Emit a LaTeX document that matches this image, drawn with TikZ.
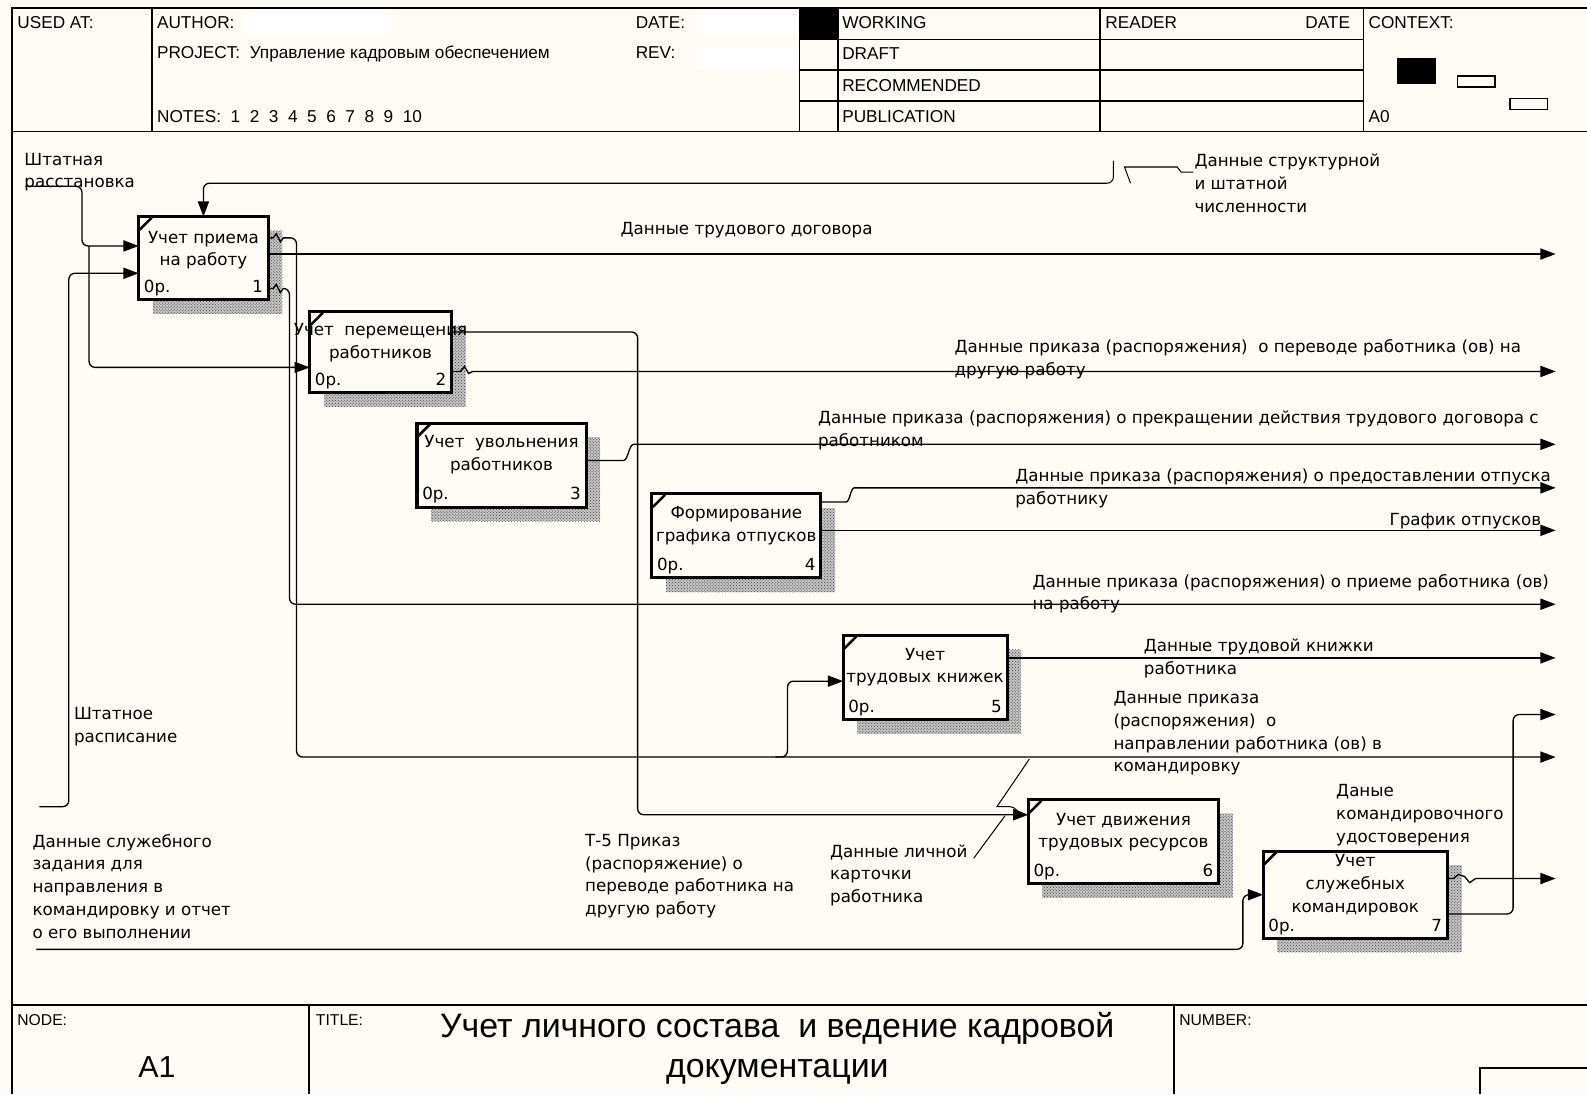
\documentclass[tikz,border=0pt]{standalone}
\usepackage{fontspec}
\setmainfont{DejaVu Sans}
\newfontfamily\hdrfont{Liberation Sans}
\usetikzlibrary{arrows.meta,patterns}
\definecolor{paper}{RGB}{254,252,245}
\newcommand\lblfont{\fontsize{16.5}{22.5}\selectfont}
\newcommand\hdrsize{\hdrfont\fontsize{17}{20}\selectfont}
% activity box: name, x, y, width, height (drawing units, y grows downward)
\newcommand\idefbox[5]{%
  \fill[boxshade] (#2+14,#3+14) rectangle (#2+#4+14,#3+#5+14);
  \node[act, minimum width=#4pt, minimum height=#5pt] (#1) at (#2,#3) {};
  \draw[line width=2.5pt] (#2+1,#3+13) -- (#2+13,#3+1);
}
% activity caption: name, caption, offset from top, number
\newcommand\idefcaption[4]{%
  \node[boxtxt, anchor=north, align=center] (#1-cap) at ([yshift=-#3pt]#1.north) {#2};
  \node[boxtxt, anchor=base west] (#1-cost) at ([xshift=5pt,yshift=7pt]#1.south west) {0р.};
  \node[boxtxt, anchor=base east] (#1-num) at ([xshift=-5pt,yshift=7pt]#1.south east) {#4};
}
\begin{document}
\begin{tikzpicture}[x=1pt,y=-1pt,
  frame/.style={line width=1.6pt},
  flow/.style={line width=1.3pt, rounded corners=6pt},
  arrowend/.style={-{Triangle[length=15pt,width=11pt]}},
  thinline/.style={line width=1pt},
  act/.style={rectangle, draw, line width=3pt, fill=paper, inner sep=0pt, outer sep=0pt, anchor=north west},
  boxshade/.style={preaction={fill=gray!45}, pattern=crosshatch dots, pattern color=black!80},
  boxtxt/.style={font=\lblfont, inner sep=0pt},
  lbl/.style={font=\lblfont, align=left, inner sep=0pt, anchor=north west},
  hdr/.style={font=\hdrsize, inner sep=0pt, anchor=base west},
  small/.style={font=\hdrfont\fontsize{15.5}{18}\selectfont, inner sep=0pt, anchor=base west}]

\useasboundingbox (0,0) rectangle (1568,1081);
\fill[paper] (0,0) rectangle (1568,1081);

% ---------- header ----------
\draw[frame] (1568,8) -- (12,8) -- (12,1081);
\draw[frame] (12,130) -- (1568,130);
\foreach \xx in {150,790,828,1087,1347} \draw[frame] (\xx,8) -- (\xx,130);
\foreach \yy in {39,69,100} \draw[frame] (790,\yy) -- (1347,\yy);
\fill (790,8) rectangle (828,39);
\fill[white] (242,13) rectangle (385,35);
\fill[white] (690,12) rectangle (788,35);
\fill[white] (690,46) rectangle (788,68);
\fill (1380,57) rectangle (1419,83);
\draw[line width=1.3pt] (1440,75) rectangle (1477,86);
\draw[line width=1.3pt] (1492,97) rectangle (1529,108);

\node[hdr] (hUsed) at (17,28) {USED AT:};
\node[hdr] (hAuthor) at (155,28) {AUTHOR:};
\node[hdr] (hProject) at (155,58) {PROJECT:\ \ Управление кадровым обеспечением};
\node[hdr] (hNotes) at (155,121) {NOTES:\ \ 1\ \ 2\ \ 3\ \ 4\ \ 5\ \ 6\ \ 7\ \ 8\ \ 9\ \ 10};
\node[hdr] (hDate) at (628,28) {DATE:};
\node[hdr] (hRev) at (628,58) {REV:};
\node[hdr] (hWork) at (832,28) {WORKING};
\node[hdr] (hDraft) at (832,59) {DRAFT};
\node[hdr] (hRec) at (832,90) {RECOMMENDED};
\node[hdr] (hPub) at (832,121) {PUBLICATION};
\node[hdr] (hReader) at (1092,28) {READER};
\node[hdr, anchor=base east] (hRDate) at (1334,28) {DATE};
\node[hdr] (hCtx) at (1352,28) {CONTEXT:};
\node[hdr] (hA0) at (1352,121) {A0};

% ---------- bottom band ----------
\draw[frame] (12,993) -- (1568,993);
\draw[frame] (305,993) -- (305,1081);
\draw[frame] (1160,993) -- (1160,1081);
\draw[frame] (1462,1081) -- (1462,1055) -- (1568,1055);
\node[small] (fNode) at (17,1013) {NODE:};
\node[small] (fTitle) at (312,1013) {TITLE:};
\node[small] (fNumber) at (1165,1013) {NUMBER:};
\node[font=\hdrfont\fontsize{30}{36}\selectfont, inner sep=0pt] (fA1) at (155,1054) {A1};
\node[font=\hdrfont\fontsize{33.5}{39}\selectfont, align=center, inner sep=0pt] (fTitleText) at (768,1036)
  {Учет личного состава~ и ведение кадровой\\документации};

% ---------- activities ----------
\idefbox{b1}{137}{214}{128}{82}
\idefbox{b2}{306}{308}{140}{80}
\idefbox{b3}{412}{418}{167}{83}
\idefbox{b4}{644}{488}{167}{83}
\idefbox{b5}{833}{628}{162}{83}
\idefbox{b6}{1016}{790}{188}{83}
\idefbox{b7}{1248}{841}{182}{86}

% ---------- boundary ends ----------
\coordinate (r251) at (1537,251);
\coordinate (r367) at (1537,367);
\coordinate (r439) at (1537,439);
\coordinate (r482) at (1537,482);
\coordinate (r524) at (1537,524);
\coordinate (r597) at (1537,597);
\coordinate (r650) at (1537,650);
\coordinate (r706) at (1537,706);
\coordinate (r748) at (1537,748);
\coordinate (r868) at (1537,868);
\coordinate (inCtl) at (1094,181);
\coordinate (srcA) at (25,184);
\coordinate (srcB) at (39,797);
\coordinate (srcC) at (36,938);

% ---------- connectors ----------
% control from the boundary with tunnel mark
\draw[flow, arrowend] (inCtl) -| (b1.north);
\draw[thinline] (1100,159) -- (1100,175) to[out=-90,in=0] (1094,181);
\draw[thinline] (1117,181) -- (1111,165) -- (1163,165) -- (1167,170) -- (1179,170);

% inputs of activity 1 and 2
\draw[flow, arrowend] (srcA) -- (81,184) -- (81,243) -- (b1.west |- 0,243);
\draw[flow, arrowend] (88,243) -- (88,363) -- (b2.west |- 0,363);
\draw[flow, arrowend] (srcB) -- (68,797) -- (68,270) -- (b1.west |- 0,270);

% outputs of activity 1
\draw[flow, arrowend] (b1.east |- 0,235) [sharp corners] -- (270,235) -- (273,231) -- (277,239) -- (280,235)
  [rounded corners=6pt] -- (293,235) -- (293,748) -- (r748);
\draw[flow, arrowend] (b1.east |- 0,251) -- (r251);
\draw[flow, arrowend] (b1.east |- 0,285) [sharp corners] -- (270,285) -- (273,281) -- (277,289) -- (280,285)
  [rounded corners=6pt] -- (286,285) -- (286,597) -- (r597);
\draw[flow, arrowend] (766,748) -- (778,748) -- (778,673) -- (b5.west |- 0,673);

% outputs of activity 2
\draw[flow, arrowend] (b2.east |- 0,328) -- (630,328) -- (630,805) -- (b6.west |- 0,805);
\draw[flow, arrowend] (b2.east |- 0,367) [sharp corners] -- (455,367) -- (459,362) -- (463,369) -- (467,367)
  [rounded corners=6pt] -- (r367);

% outputs of activity 3 and 4
\draw[flow, arrowend] (b3.east |- 0,455) -- (610,455) to[out=0,in=180] (632,439) -- (r439);
\draw[flow, arrowend] (b4.east |- 0,496) -- (830,496) to[out=0,in=180] (850,482) -- (r482);
\draw[flow, arrowend] (b4.east |- 0,524) -- (r524);

% output of activity 5
\draw[flow, arrowend] (b5.east |- 0,650) -- (r650);

% input and outputs of activity 7
\draw[flow, arrowend] (srcC) -- (1228,938) -- (1228,884) -- (b7.west |- 0,884);
\draw[flow, arrowend] (b7.east |- 0,868) [sharp corners] -- (1436,868) -- (1441,864) -- (1447,866) -- (1452,872) -- (1458,868)
  [rounded corners=6pt] -- (r868);
\draw[flow, arrowend] (b7.east |- 0,903) -- (1495,903) -- (1495,706) -- (r706);

% squiggles near activity 6
\draw[thinline] (1017,750) -- (985,797) -- (998,797) to[out=0,in=180] (1010,803);
\draw[thinline] (962,848) -- (993,806);

% ---------- arrow labels ----------
\node[lbl] (lShtR) at (24,151) {Штатная\\расстановка};
\node[lbl] (lStruct) at (1180,152) {Данные структурной\\и штатной\\численности};
\node[lbl] (lTD) at (613,219) {Данные трудового договора};
\node[lbl] (lPerevod) at (943,335) {Данные приказа (распоряжения)~ о переводе работника (ов) на\\другую работу};
\node[lbl] (lUvol) at (808,406) {Данные приказа (распоряжения) о прекращении действия трудового договора с\\работником};
\node[lbl] (lOtp) at (1003,463) {Данные приказа (распоряжения) о предоставлении отпуска\\работнику};
\node[lbl, anchor=north east] (lGraf) at (1523,507) {График отпусков};
\node[lbl] (lPriem) at (1020,567) {Данные приказа (распоряжения) о приеме работника (ов)\\на работу};
\node[lbl] (lTK) at (1130,631) {Данные трудовой книжки\\работника};
\node[lbl] (lKom) at (1100,683) {Данные приказа\\(распоряжения)~ о\\направлении работника (ов) в\\командировку};
\node[lbl] (lShtRasp) at (73,699) {Штатное\\расписание};
\node[lbl] (lUdost) at (1320,775) {Даные\\командировочного\\удостоверения};
\node[lbl] (lZad) at (32,824) {Данные служебного\\задания для\\направления в\\командировку и отчет\\о его выполнении};
\node[lbl] (lT5) at (578,824) {Т-5 Приказ\\(распоряжение) о\\переводе работника на\\другую работу};
\node[lbl] (lKart) at (820,834) {Данные личной\\карточки\\работника};

% ---------- activity captions ----------
\idefcaption{b1}{Учет приема\\на работу}{14}{1}
\idefcaption{b2}{Учет~ перемещения\\работников}{11}{2}
\idefcaption{b3}{Учет~ увольнения\\работников}{12}{3}
\idefcaption{b4}{Формирование\\графика отпусков}{12}{4}
\idefcaption{b5}{Учет\\трудовых книжек}{12}{5}
\idefcaption{b6}{Учет движения\\трудовых ресурсов}{13}{6}
\idefcaption{b7}{Учет\\служебных\\командировок}{3}{7}
\end{tikzpicture}
\end{document}
